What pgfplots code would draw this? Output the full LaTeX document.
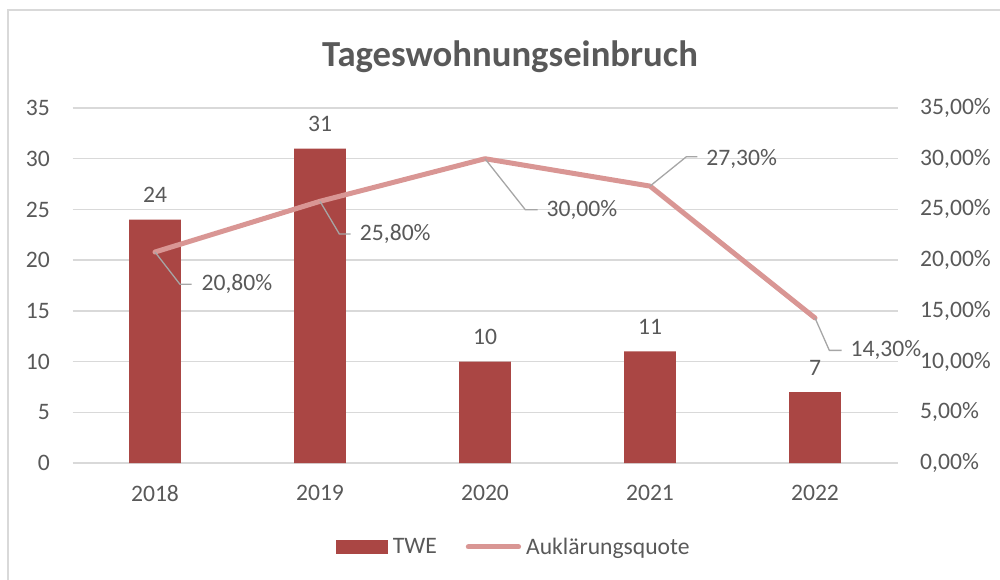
\documentclass[border=0pt]{standalone}
\usepackage{pgfplots}
\pgfplotsset{compat=1.18}
\usepackage{fontspec}
\setmainfont{Carlito}
\definecolor{barcol}{HTML}{AA4644}
\definecolor{linecol}{HTML}{D99694}
\definecolor{txt}{HTML}{595959}
\definecolor{gridc}{HTML}{D9D9D9}
\definecolor{leader}{HTML}{A6A6A6}
\newcommand{\fs}{\fontsize{23.6pt}{28pt}\selectfont}
\begin{document}
\begin{tikzpicture}
\useasboundingbox (0,0) rectangle (1000pt,579pt);
\draw[gridc, line width=2pt] (8pt,-5pt) -- (8pt,569pt) -- (1010pt,569pt);
\node[anchor=base, text=txt, font=\fontsize{36.7pt}{44pt}\selectfont\bfseries, inner sep=0pt] at (510pt,512.3pt) {Tageswohnungseinbruch};
\pgfplotsset{common/.style={
  scale only axis, width=825pt, height=355pt, at={(72.5pt,116pt)}, anchor=south west,
  xmin=-0.5, xmax=4.5, ymin=0, ymax=35, ytick={0,5,...,35}, xtick={0,...,4},
  major tick length=0pt, tick style={draw=none},
  axis line style={draw=none},
  ticklabel style={font=\fs, text=txt, inner sep=0pt},
  /pgf/number format/assume math mode=true,
}}
\begin{axis}[common,
  ymajorgrids, grid style={gridc, line width=1.5pt},
  yticklabels={0,5,10,15,20,25,30,35},
  xticklabels={2018,2019,2020,2021,2022},
  yticklabel style={anchor=east, xshift=-22.5pt},
  xticklabel style={anchor=north, yshift=-22pt},
  ybar, bar width=51.7pt,
  nodes near coords,
  nodes near coords style={font=\fs, text=txt, anchor=base, inner sep=0pt, yshift=17pt},
]
\addplot[fill=barcol, draw=none, bar shift=0pt] coordinates {(0,24) (1,31) (2,10) (3,11) (4,7)};
\end{axis}
\begin{axis}[common, clip=false,
  xticklabels={}, yticklabel pos=right,
  yticklabels={{0,00\%},{5,00\%},{10,00\%},{15,00\%},{20,00\%},{25,00\%},{30,00\%},{35,00\%}},
  yticklabel style={anchor=west, xshift=22.5pt},
  legend style={at={(0.5335,-0.2366)}, anchor=center, draw=none, fill=none,
    legend columns=2, inner sep=0pt,
    nodes={inner sep=0pt, font=\fs, text=txt},
    /tikz/every odd column/.append style={column sep=5pt},
    /tikz/every even column/.append style={column sep=29pt}},
  legend cell align=left,
]
\addlegendimage{legend image code/.code={\fill[barcol] (0pt,-6.65pt) rectangle (51.7pt,6.65pt);}}
\addlegendentry{TWE}
\addplot[linecol, line width=5pt, line join=round, line cap=round,
  legend image code/.code={\draw[line cap=round] (0pt,0pt) -- (50.3pt,0pt);}]
  coordinates {(0,20.8) (1,25.8) (2,30.0) (3,27.3) (4,14.3)};
\addlegendentry{Auklärungsquote}
\begin{scope}[leader, line width=1.3pt]
\draw (axis cs:0,20.8) -- ++(25pt,-32.3pt) -- ++(11.7pt,0pt) node[anchor=west, xshift=9.3pt, font=\fs, text=txt, inner sep=0pt]{20,80\%};
\draw (axis cs:1,25.8) -- ++(19.3pt,-32.6pt) -- ++(11.4pt,0pt) node[anchor=west, xshift=8.6pt, font=\fs, text=txt, inner sep=0pt]{25,80\%};
\draw (axis cs:2,30.0) -- ++(40.3pt,-51pt) -- ++(12.3pt,0pt) node[anchor=west, xshift=8.4pt, font=\fs, text=txt, inner sep=0pt]{30,00\%};
\draw (axis cs:3,27.3) -- ++(36.3pt,29.3pt) -- ++(11pt,0pt) node[anchor=west, xshift=8.4pt, yshift=-2.3pt, font=\fs, text=txt, inner sep=0pt]{27,30\%};
\draw (axis cs:4,14.3) -- ++(14.3pt,-32.4pt) -- ++(12.3pt,0pt) node[anchor=west, xshift=8.4pt, font=\fs, text=txt, inner sep=0pt]{14,30\%};
\end{scope}
\end{axis}
\end{tikzpicture}
\end{document}
